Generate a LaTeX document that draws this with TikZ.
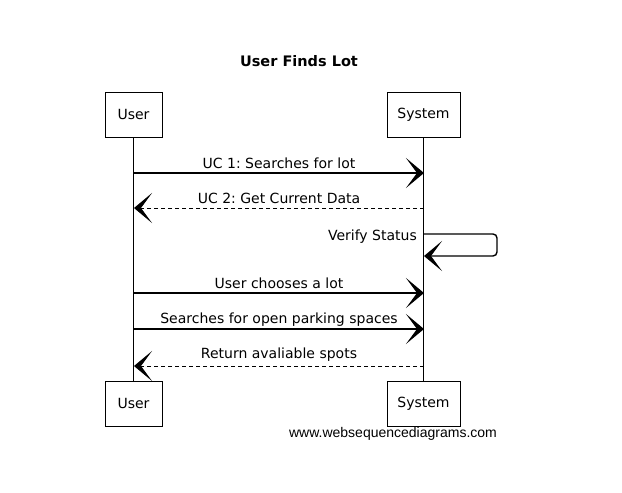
\documentclass[tikz,border=0pt]{standalone}
\usepackage{fontspec}
\setmainfont{DejaVu Sans}
\setsansfont{Liberation Sans}
\usetikzlibrary{arrows.meta, positioning}
\frenchspacing

\begin{document}
\begin{tikzpicture}[x=1pt, y=-1pt,
  actor/.style={draw, line width=1pt, minimum height=45pt, inner sep=0pt,
                font=\fontsize{14}{16}\selectfont},
  lifeline/.style={line width=0.9pt},
  msg/.style={line width=1.4pt, -{Stealth[length=18pt, width=30pt, inset=11pt]}},
  reply/.style={msg, line width=1pt, dash pattern=on 4pt off 3pt},
  lbl/.style={font=\fontsize{14}{16}\selectfont, inner sep=1pt, anchor=south},
]
\useasboundingbox (0,0) rectangle (622,493);
%% Title
\node[font=\fontsize{14.5}{16}\selectfont\bfseries] (title) at (299,61) {User Finds Lot};
%% Participants
\node[actor, minimum width=57pt] (userTop) at (133.5,114.5) {User};
\node[actor, minimum width=73pt] (sysTop) at (423.5,114.5) {System};
\node[actor, minimum width=57pt] (userBot) at (133.5,403.5) {User};
\node[actor, minimum width=73pt] (sysBot) at (423.5,403.5) {System};
%% Lifelines
\draw[lifeline] (userTop) -- (userBot);
\draw[lifeline] (sysTop) -- (sysBot);
%% Message points
\coordinate (u1) at (134,173);  \coordinate (s1) at (424,173);
\coordinate (u2) at (134,208);  \coordinate (s2) at (424,208);
\coordinate (s3) at (424,234);  \coordinate (s3e) at (424,256);
\coordinate (u4) at (134,293);  \coordinate (s4) at (424,293);
\coordinate (u5) at (134,329);  \coordinate (s5) at (424,329);
\coordinate (u6) at (134,366);  \coordinate (s6) at (424,366);
%% Messages
\draw[msg] (u1) -- (s1) node[lbl, midway, above=3pt] {UC 1: Searches for lot};
\draw[reply] (s2) -- (u2) node[lbl, midway, above=3pt] {UC 2: Get Current Data};
\draw[msg, rounded corners=4pt] (s3) -- ++(73,0) -- ++(0,22) -- (s3e);
\node[lbl, anchor=east] (verify) at (418,237) {Verify Status};
\draw[msg] (u4) -- (s4) node[lbl, midway, above=3pt] {User chooses a lot};
\draw[msg] (u5) -- (s5) node[lbl, midway, above=1pt] {Searches for open parking spaces};
\draw[reply] (s6) -- (u6) node[lbl, midway, above=3pt] {Return avaliable spots};
%% Watermark
\node[font=\sffamily\fontsize{14}{16}\selectfont] (mark) at (393,434) {www.websequencediagrams.com};
\end{tikzpicture}
\end{document}
